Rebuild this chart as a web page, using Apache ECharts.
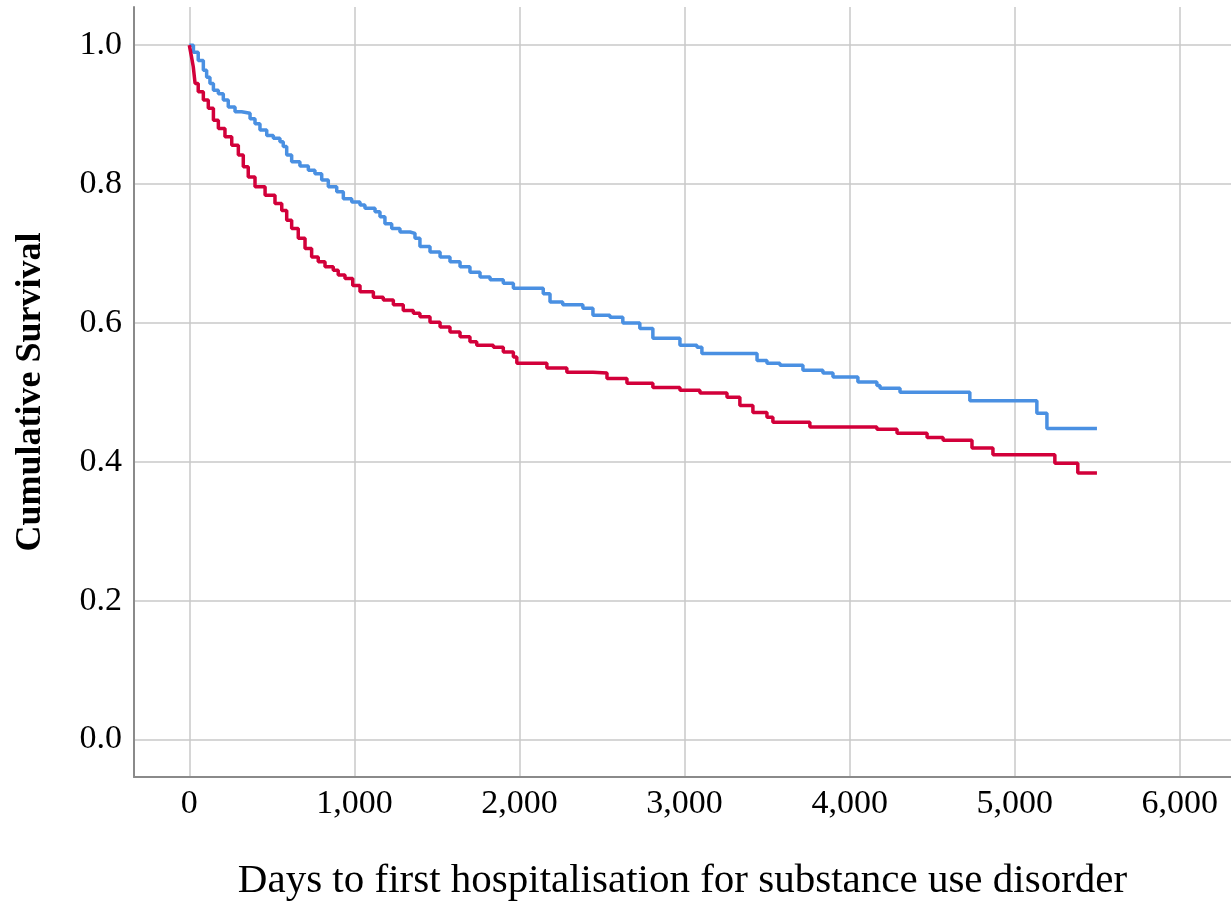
<!DOCTYPE html>
<html>
<head>
<meta charset="utf-8">
<script src="https://cdn.jsdelivr.net/npm/echarts@6/dist/echarts.min.js"></script>
<style>html,body{margin:0;padding:0;background:#fff;}#c{width:1231px;height:901px;}</style>
</head>
<body>
<div id="c"></div>
<script>
// Group 1 (blue) Kaplan-Meier steps: day at which survival drops, survival after drop
const blueDays = [0, 25, 54, 85, 105, 125, 146, 176, 206, 236, 277, 317, 368, 398, 428, 469, 509, 549, 569, 590, 620, 670, 721, 761, 802, 842, 893, 933, 984, 1034, 1064, 1125, 1155, 1185, 1226, 1276, 1337, 1367, 1397, 1458, 1519, 1579, 1640, 1700, 1761, 1822, 1902, 1963, 2144, 2185, 2262, 2384, 2445, 2548, 2626, 2729, 2808, 2972, 3075, 3105, 3439, 3499, 3578, 3717, 3838, 3899, 4050, 4165, 4184, 4305, 4728, 5134, 5195, 5498];
const blueSurv = [1.0, 0.990, 0.978, 0.964, 0.954, 0.945, 0.935, 0.930, 0.921, 0.911, 0.904, 0.902, 0.894, 0.887, 0.878, 0.870, 0.866, 0.861, 0.854, 0.842, 0.832, 0.826, 0.820, 0.815, 0.806, 0.796, 0.789, 0.779, 0.774, 0.770, 0.765, 0.760, 0.753, 0.743, 0.736, 0.731, 0.729, 0.722, 0.710, 0.702, 0.695, 0.688, 0.681, 0.673, 0.666, 0.662, 0.657, 0.650, 0.642, 0.630, 0.626, 0.621, 0.611, 0.608, 0.600, 0.592, 0.578, 0.568, 0.565, 0.556, 0.546, 0.542, 0.539, 0.532, 0.528, 0.522, 0.515, 0.510, 0.506, 0.500, 0.488, 0.470, 0.448, 0.448];
// Group 2 (red)
const redDays = [0, 12, 24, 35, 54, 85, 115, 146, 176, 216, 257, 297, 327, 357, 398, 459, 519, 560, 590, 620, 660, 701, 741, 781, 822, 872, 902, 943, 990, 1034, 1115, 1175, 1236, 1296, 1357, 1397, 1458, 1519, 1579, 1640, 1700, 1741, 1842, 1902, 1963, 1984, 2166, 2287, 2445, 2530, 2651, 2808, 2972, 3093, 3257, 3335, 3414, 3499, 3535, 3759, 4165, 4287, 4469, 4566, 4741, 4868, 5243, 5382, 5498];
const redSurv = [1.0, 0.985, 0.969, 0.945, 0.933, 0.921, 0.909, 0.892, 0.880, 0.868, 0.856, 0.842, 0.825, 0.810, 0.796, 0.784, 0.772, 0.762, 0.748, 0.736, 0.722, 0.707, 0.695, 0.688, 0.681, 0.676, 0.669, 0.664, 0.654, 0.645, 0.637, 0.633, 0.626, 0.618, 0.614, 0.609, 0.601, 0.594, 0.587, 0.580, 0.573, 0.568, 0.565, 0.558, 0.551, 0.542, 0.535, 0.529, 0.528, 0.520, 0.513, 0.507, 0.503, 0.499, 0.493, 0.481, 0.471, 0.464, 0.457, 0.450, 0.447, 0.441, 0.435, 0.431, 0.420, 0.410, 0.398, 0.384, 0.384];
const xTicks = [0, 1000, 2000, 3000, 4000, 5000, 6000];
const yTicks = [0.0, 0.2, 0.4, 0.6, 0.8, 1.0];
const xTitle = 'Days to first hospitalisation for substance use disorder';
const yTitle = 'Cumulative Survival';

const pair = (xs, ys) => xs.map((x, i) => [x, ys[i]]);
const serif = '"Liberation Serif", "Times New Roman", serif';
const chart = echarts.init(document.getElementById('c'));
chart.setOption({
  animation: false,
  backgroundColor: '#ffffff',
  grid: { left: 134, right: 0, top: 7, bottom: 124, containLabel: false, outerBoundsMode: 'none' },
  xAxis: {
    type: 'value', min: -335, max: 6310,
    name: xTitle, nameLocation: 'middle', nameGap: 84,
    nameTextStyle: { fontFamily: serif, fontSize: 41, color: '#000' },
    axisLine: { show: true, onZero: false, lineStyle: { color: '#8a8a8a', width: 2 } },
    axisTick: { show: false, customValues: xTicks },
    axisLabel: { customValues: xTicks, fontFamily: serif, fontSize: 34, color: '#000', margin: 10,
      formatter: v => Math.round(v).toLocaleString('en-US') },
    splitLine: { show: true, lineStyle: { color: '#c8c8c8', width: 1.5 } }
  },
  yAxis: {
    type: 'value', min: -0.054, max: 1.055,
    name: yTitle, nameLocation: 'middle', nameGap: 85, nameRotate: 90,
    nameTextStyle: { fontFamily: serif, fontSize: 36, fontWeight: 'bold', color: '#000' },
    axisLine: { show: true, onZero: false, lineStyle: { color: '#8a8a8a', width: 2 } },
    axisTick: { show: false, customValues: yTicks },
    axisLabel: { customValues: yTicks, fontFamily: serif, fontSize: 34, color: '#000', margin: 12,
      formatter: v => v.toFixed(1) },
    splitLine: { show: true, lineStyle: { color: '#c8c8c8', width: 1.5 } }
  },
  series: [
    { type: 'line', step: 'end', data: pair(blueDays, blueSurv), showSymbol: false, symbol: 'none',
      lineStyle: { color: '#4a90e2', width: 3.5 }, itemStyle: { color: '#4a90e2' } },
    { type: 'line', step: 'end', data: pair(redDays, redSurv), showSymbol: false, symbol: 'none',
      lineStyle: { color: '#d2003a', width: 3.5 }, itemStyle: { color: '#d2003a' } }
  ]
});
</script>
</body>
</html>
